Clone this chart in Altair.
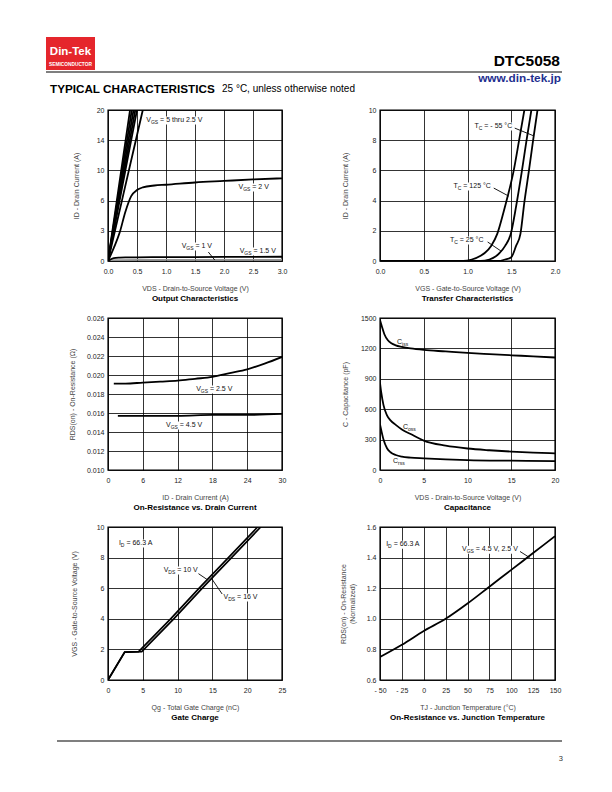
import altair as alt
import pandas as pd

FONT = "Liberation Sans"

# ================= Output Characteristics =================
oc_x_ticks = [0.0, 0.5, 1.0, 1.5, 2.0, 2.5, 3.0]
oc_y_ticks = [0, 3, 6, 10, 14, 20]
oc_bundle_id = [0, 3, 6, 10, 14, 20]
oc_vgs50_vds = [0, 0.076, 0.152, 0.228, 0.304, 0.38]
oc_vgs45_vds = [0, 0.082, 0.164, 0.246, 0.328, 0.41]
oc_vgs40_vds = [0, 0.088, 0.176, 0.264, 0.352, 0.44]
oc_vgs35_vds = [0, 0.094, 0.188, 0.282, 0.376, 0.47]
oc_vgs30_vds = [0, 0.100, 0.200, 0.300, 0.400, 0.50]
oc_vgs25_vds = [0, 0.120, 0.240, 0.360, 0.480, 0.60]
oc_vgs20_vds = [0, 0.1, 0.2, 0.3, 0.4, 0.5, 0.6, 0.8, 1.0, 1.5, 2.0, 2.5, 3.0]
oc_vgs20_id = [0, 1.3, 2.8, 4.9, 6.6, 7.4, 7.75, 8.0, 8.1, 8.4, 8.6, 8.8, 8.95]
oc_vgs15_vds = [0, 0.05, 0.1, 0.2, 0.3, 0.5, 1.0, 2.0, 3.0]
oc_vgs15_id = [0, 0.18, 0.28, 0.34, 0.36, 0.37, 0.38, 0.40, 0.42]
oc_vgs10_vds = [0, 0.05, 0.1, 0.2, 0.5, 1.0, 2.0, 3.0]
oc_vgs10_id = [0, 0.06, 0.09, 0.11, 0.12, 0.12, 0.13, 0.13]
oc_lbl_vds = [0.66, 2.25, 1.27, 2.27]
oc_lbl_id = [18.0, 7.8, 1.49, 1.0]
oc_ptr_vds = [1.73, 1.84]
oc_ptr_id = [0.89, 0.10]

# ================= Transfer Characteristics =================
tr_x_ticks = [0.0, 0.5, 1.0, 1.5, 2.0]
tr_y_ticks = [0, 2, 4, 6, 8, 10]
tr_125_vgs = [0.0, 0.95, 1.05, 1.15, 1.20, 1.27, 1.34, 1.41, 1.46, 1.525, 1.59, 1.65]
tr_125_id = [0, 0, 0.10, 0.35, 0.55, 1.0, 1.8, 3.2, 4.3, 5.9, 8.0, 10.0]
tr_25_vgs = [0.0, 1.15, 1.25, 1.32, 1.37, 1.43, 1.495, 1.555, 1.62, 1.675, 1.73]
tr_25_id = [0, 0, 0.10, 0.30, 0.55, 1.0, 1.8, 3.6, 5.9, 8.0, 10.0]
tr_m55_vgs = [0.0, 1.35, 1.43, 1.50, 1.555, 1.605, 1.65, 1.70, 1.75, 1.80]
tr_m55_id = [0, 0, 0.10, 0.25, 1.0, 1.8, 3.9, 5.9, 8.0, 10.0]
tr_lbl_vgs = [1.08, 0.84, 0.80]
tr_lbl_id = [8.94, 4.97, 1.39]
tr_ptr_m55_vgs = [1.54, 1.76]
tr_ptr_m55_id = [8.80, 8.28]
tr_ptr_125_vgs = [1.30, 1.47]
tr_ptr_125_id = [4.83, 4.30]
tr_ptr_25_vgs = [1.23, 1.385]
tr_ptr_25_id = [1.26, 0.65]

# ================= On-Resistance vs. Drain Current =================
rid_x_ticks = [0, 6, 12, 18, 24, 30]
rid_y_ticks = [0.010, 0.012, 0.014, 0.016, 0.018, 0.020, 0.022, 0.024, 0.026]
rid_25_id = [1, 3, 6, 9, 12, 15, 18, 21, 24, 27, 30]
rid_25_r = [0.0191, 0.0191, 0.0192, 0.0193, 0.0194, 0.0196, 0.0198, 0.0202, 0.0206, 0.0212, 0.0219]
rid_45_id = [1.7, 6, 12, 18, 24, 30]
rid_45_r = [0.0157, 0.0157, 0.0157, 0.0158, 0.0158, 0.0159]
rid_lbl_id = [15.2, 10.0]
rid_lbl_r = [0.01853, 0.01474]

# ================= Capacitance =================
cap_x_ticks = [0, 5, 10, 15, 20]
cap_y_ticks = [0, 300, 600, 900, 1200, 1500]
ciss_v = [0, 0.2, 0.5, 0.9, 1.3, 1.8, 2.5, 3.5, 5, 7.5, 10, 12.5, 15, 17.5, 20]
ciss_c = [1480, 1420, 1340, 1280, 1250, 1230, 1215, 1200, 1185, 1170, 1155, 1143, 1132, 1122, 1110]
coss_v = [0, 0.15, 0.4, 0.8, 1.2, 1.8, 2.5, 3.5, 5, 7.5, 10, 12.5, 15, 17.5, 20]
coss_c = [860, 760, 640, 540, 490, 445, 400, 355, 290, 240, 212, 195, 182, 172, 165]
crss_v = [0, 0.15, 0.4, 0.8, 1.2, 1.8, 2.5, 3.5, 5, 7.5, 10, 15, 20]
crss_c = [450, 390, 300, 215, 175, 148, 132, 122, 115, 105, 98, 92, 88]
cap_lbl_v = [1.94, 2.63, 1.49]
cap_lbl_c = [1263, 424, 89]

# ================= Gate Charge =================
gc_x_ticks = [0, 5, 10, 15, 20, 25]
gc_y_ticks = [0, 2, 4, 6, 8, 10]
gc_10_q = [0, 2.4, 4.4, 9.0, 13.1, 17.3, 21.5]
gc_10_v = [0, 1.82, 1.85, 4.0, 6.0, 8.0, 10.0]
gc_16_q = [0, 2.4, 4.85, 9.45, 13.55, 17.75, 21.95]
gc_16_v = [0, 1.82, 1.85, 4.0, 6.0, 8.0, 10.0]
gc_lbl_q = [1.57, 8.0, 16.6]
gc_lbl_v = [8.95, 7.19, 5.42]
gc_ptr10_q = [13.0, 14.3]
gc_ptr10_v = [6.95, 6.55]
gc_ptr16_q = [16.4, 14.9]
gc_ptr16_v = [5.62, 6.62]

# ================= On-Resistance vs. Junction Temperature =================
rt_x_ticks = [-50, -25, 0, 25, 50, 75, 100, 125, 150]
rt_x_labels = ["- 50", "- 25", "0", "25", "50", "75", "100", "125", "150"]
rt_y_ticks = [0.6, 0.8, 1.0, 1.2, 1.4, 1.6]
rt_t = [-50, -25, 0, 25, 50, 75, 100, 125, 150]
rt_r = [0.75, 0.83, 0.92, 1.00, 1.10, 1.21, 1.32, 1.43, 1.54]
rt_lbl_t = [-43.0, 43.7]
rt_lbl_r = [1.487, 1.454]
rt_ptr_t = [110, 121]
rt_ptr_r = [1.44, 1.40]

# ---------------------------------------------------------------
W0, W1 = 174, 175
H1, H2, H3 = 151, 152, 153
DUMMY = pd.DataFrame({"k": [0]})

AW = {' ': 278, '=': 584, '-': 333, '.': 278, ',': 278, '°': 400, 'A': 667, 'C': 722,
      'D': 722, 'G': 778, 'I': 278, 'S': 667, 'T': 611, 'V': 667, 'c': 500, 'i': 222,
      's': 500, 'o': 556, 'r': 333, 't': 278, 'h': 556, 'u': 556, 'n': 556}


def twidth(s, fs):
    return sum(AW.get(ch, 556) for ch in s) / 1000.0 * fs


def xq(domain, ticks, title, fmt=None, expr=None):
    kw = dict(values=ticks, title=title, grid=True, labelPadding=6, titlePadding=10)
    if fmt:
        kw["format"] = fmt
    if expr:
        kw["labelExpr"] = expr
    return alt.X("x:Q", scale=alt.Scale(domain=domain, nice=False, zero=False), axis=alt.Axis(**kw))


def yq(domain, ticks, title, tpad, fmt=None, rng=None):
    kw = dict(values=ticks, title=title, grid=True, labelPadding=4, titlePadding=tpad)
    if fmt:
        kw["format"] = fmt
    sc = dict(domain=domain, nice=False, zero=False)
    if rng is not None:
        sc["range"] = rng
    return alt.Y("y:Q", scale=alt.Scale(**sc), axis=alt.Axis(**kw))


def series(xs, ys, X, Y, color="black", width=1.8, interp="monotone"):
    df = pd.DataFrame({"x": xs, "y": ys, "i": list(range(len(xs)))})
    return alt.Chart(df).mark_line(color=color, strokeWidth=width, clip=True,
                                   interpolate=interp).encode(x=X, y=Y, order="i:Q")


def label(x, y, parts, X, Y, size=7.0):
    """Returns (white background strip layer, list of text layers)."""
    df = pd.DataFrame({"x": [x], "y": [y]})
    out = []
    off = 0.0
    for t, sub in parts:
        fs = 5.0 if sub else size
        ts = t.lstrip(" ")
        off += (len(t) - len(ts)) * 0.278 * fs
        out.append(alt.Chart(df).mark_text(text=ts, align="left", baseline="middle", dx=off,
                                           dy=(2.0 if sub else 0.0), fontSize=fs, font=FONT,
                                           color="#111").encode(x=X, y=Y))
        off += twidth(ts, fs)
    box = alt.Chart(df).mark_rule(color="white", strokeWidth=8, strokeCap="butt",
                                  xOffset=-1, x2Offset=off + 1, yOffset=0.5).encode(
        x=X, x2=alt.X2("x:Q"), y=Y)
    return box, out


def panel(curves, labels, w, h, title):
    boxes = [b for b, _ in labels]
    texts = [t for _, ts in labels for t in ts]
    return alt.layer(*(boxes + curves + texts)).properties(
        width=w, height=h,
        title=alt.TitleParams(title, orient="bottom", anchor="middle", fontSize=8,
                              fontWeight="bold", font=FONT, color="black", offset=4))


# ---- chart 1
X1 = xq([0, 3], oc_x_ticks, "VDS - Drain-to-Source Voltage (V)", fmt=".1f")
Y1 = yq([0, 3, 6, 10, 14, 20], oc_y_ticks, "ID - Drain Current (A)", 17,
        rng=[H1 * (1 - k / 5) for k in range(6)])
l1 = [series(v, oc_bundle_id, X1, Y1, interp="linear") for v in
      [oc_vgs50_vds, oc_vgs45_vds, oc_vgs40_vds, oc_vgs35_vds, oc_vgs30_vds, oc_vgs25_vds]]
l1 += [series(oc_vgs20_vds, oc_vgs20_id, X1, Y1),
       series(oc_vgs10_vds, oc_vgs10_id, X1, Y1, color="#999999", width=1.5),
       series(oc_vgs15_vds, oc_vgs15_id, X1, Y1),
       series(oc_ptr_vds, oc_ptr_id, X1, Y1, width=0.9, interp="linear")]
t1 = [label(oc_lbl_vds[0], oc_lbl_id[0], [("V", 0), ("GS", 1), (" = 5 thru 2.5 V", 0)], X1, Y1),
      label(oc_lbl_vds[1], oc_lbl_id[1], [("V", 0), ("GS", 1), (" = 2 V", 0)], X1, Y1),
      label(oc_lbl_vds[2], oc_lbl_id[2], [("V", 0), ("GS", 1), (" = 1 V", 0)], X1, Y1),
      label(oc_lbl_vds[3], oc_lbl_id[3], [("V", 0), ("GS", 1), (" = 1.5 V", 0)], X1, Y1)]
c1 = panel(l1, t1, W0, H1, "Output Characteristics")

# ---- chart 2
X2 = xq([0, 2], tr_x_ticks, "VGS - Gate-to-Source Voltage (V)", fmt=".1f")
Y2 = yq([0, 10], tr_y_ticks, "ID - Drain Current (A)", 20)
l2 = [series(tr_125_vgs, tr_125_id, X2, Y2), series(tr_25_vgs, tr_25_id, X2, Y2),
      series(tr_m55_vgs, tr_m55_id, X2, Y2),
      series(tr_ptr_m55_vgs, tr_ptr_m55_id, X2, Y2, width=0.9, interp="linear"),
      series(tr_ptr_125_vgs, tr_ptr_125_id, X2, Y2, width=0.9, interp="linear"),
      series(tr_ptr_25_vgs, tr_ptr_25_id, X2, Y2, width=0.9, interp="linear")]
t2 = [label(tr_lbl_vgs[0], tr_lbl_id[0], [("T", 0), ("C", 1), (" = - 55 °C", 0)], X2, Y2),
      label(tr_lbl_vgs[1], tr_lbl_id[1], [("T", 0), ("C", 1), (" = 125 °C", 0)], X2, Y2),
      label(tr_lbl_vgs[2], tr_lbl_id[2], [("T", 0), ("C", 1), (" = 25 °C", 0)], X2, Y2)]
c2 = panel(l2, t2, W1, H1, "Transfer Characteristics")

# ---- chart 3
X3 = xq([0, 30], rid_x_ticks, "ID - Drain Current (A)")
Y3 = yq([0.010, 0.026], rid_y_ticks, "RDS(on) - On-Resistance (Ω)", 11, fmt=".3f")
l3 = [series(rid_25_id, rid_25_r, X3, Y3), series(rid_45_id, rid_45_r, X3, Y3)]
t3 = [label(rid_lbl_id[0], rid_lbl_r[0], [("V", 0), ("GS", 1), (" = 2.5 V", 0)], X3, Y3),
      label(rid_lbl_id[1], rid_lbl_r[1], [("V", 0), ("GS", 1), (" = 4.5 V", 0)], X3, Y3)]
c3 = panel(l3, t3, W0, H2, "On-Resistance vs. Drain Current")

# ---- chart 4
X4 = xq([0, 20], cap_x_ticks, "VDS - Drain-to-Source Voltage (V)")
Y4 = yq([0, 1500], cap_y_ticks, "C - Capacitance (pF)", 12, fmt="d")
l4 = [series(ciss_v, ciss_c, X4, Y4), series(coss_v, coss_c, X4, Y4), series(crss_v, crss_c, X4, Y4)]
t4 = [label(cap_lbl_v[0], cap_lbl_c[0], [("C", 0), ("iss", 1)], X4, Y4),
      label(cap_lbl_v[1], cap_lbl_c[1], [("C", 0), ("oss", 1)], X4, Y4),
      label(cap_lbl_v[2], cap_lbl_c[2], [("C", 0), ("rss", 1)], X4, Y4)]
c4 = panel(l4, t4, W1, H2, "Capacitance")

# ---- chart 5
X5 = xq([0, 25], gc_x_ticks, "Qg - Total Gate Charge (nC)")
Y5 = yq([0, 10], gc_y_ticks, "VGS - Gate-to-Source Voltage (V)", 19)
l5 = [series(gc_10_q, gc_10_v, X5, Y5, width=1.7, interp="linear"),
      series(gc_16_q, gc_16_v, X5, Y5, width=1.7, interp="linear"),
      series(gc_ptr10_q, gc_ptr10_v, X5, Y5, width=0.9, interp="linear"),
      series(gc_ptr16_q, gc_ptr16_v, X5, Y5, width=0.9, interp="linear")]
t5 = [label(gc_lbl_q[0], gc_lbl_v[0], [("I", 0), ("D", 1), (" = 66.3 A", 0)], X5, Y5),
      label(gc_lbl_q[1], gc_lbl_v[1], [("V", 0), ("DS", 1), (" = 10 V", 0)], X5, Y5),
      label(gc_lbl_q[2], gc_lbl_v[2], [("V", 0), ("DS", 1), (" = 16 V", 0)], X5, Y5)]
c5 = panel(l5, t5, W0, H3, "Gate Charge")

# ---- chart 6
rt_expr = " : ".join(f"datum.value == {v} ? '{s}'" for v, s in zip(rt_x_ticks, rt_x_labels)) + " : ''"
X6 = xq([-50, 150], rt_x_ticks, "TJ - Junction Temperature (°C)", expr=rt_expr)
Y6 = yq([0.6, 1.6], rt_y_ticks, ["RDS(on) - On-Resistance", "(Normalized)"], 11, fmt=".1f")
l6 = [series(rt_t, rt_r, X6, Y6), series(rt_ptr_t, rt_ptr_r, X6, Y6, width=0.9, interp="linear")]
t6 = [label(rt_lbl_t[0], rt_lbl_r[0], [("I", 0), ("D", 1), (" = 66.3 A", 0)], X6, Y6),
      label(rt_lbl_t[1], rt_lbl_r[1], [("V", 0), ("GS", 1), (" = 4.5 V, 2.5 V", 0)], X6, Y6)]
c6 = panel(l6, t6, W1, H3, "On-Resistance vs. Junction Temperature")

# ---- header / footer / blank
NOFRAME = alt.ViewBackground(stroke="transparent")


def ptext(text, x, y, size, weight="normal", color="black", align="left"):
    return alt.Chart(DUMMY).mark_text(text=text, fontSize=size, fontWeight=weight, color=color,
                                      align=align, baseline="middle", font=FONT).encode(
        x=alt.value(x), y=alt.value(y))


header = alt.layer(
    alt.Chart(DUMMY).mark_rect(color="#e5262c").encode(
        x=alt.value(-62), x2=alt.value(-13), y=alt.value(4), y2=alt.value(37)),
    ptext("Din-Tek", -37.5, 19, 11.5, "bold", "white", "center"),
    ptext("SEMICONDUCTOR", -37.5, 32, 4.8, "bold", "white", "center"),
    alt.Chart(DUMMY).mark_rule(color="black", strokeWidth=1.2).encode(
        x=alt.value(-62), x2=alt.value(454), y=alt.value(39)),
    ptext("DTC5058", 452, 28, 15.5, "bold", "black", "right"),
    ptext("www.din-tek.jp", 453, 45, 11.8, "bold", "#1f2f8f", "right"),
    ptext("TYPICAL CHARACTERISTICS", -58, 56, 11.7, "bold"),
    ptext("25 °C, unless otherwise noted", 114, 56, 10),
).properties(width=W0, height=20, view=NOFRAME)

blank = alt.Chart(DUMMY).mark_point(opacity=0).encode(
    x=alt.value(0), y=alt.value(0)).properties(width=W1, height=20, view=NOFRAME)

footer = alt.layer(
    alt.Chart(DUMMY).mark_rule(color="black", strokeWidth=1.2).encode(
        x=alt.value(-51), x2=alt.value(454), y=alt.value(4)),
    ptext("3", 455, 22, 7.5, "normal", "#333", "right"),
).properties(width=W0, height=10, view=NOFRAME)

chart = alt.concat(
    header, blank, c1, c2, c3, c4, c5, c6, footer,
    columns=2, spacing={"row": 57, "column": 98}, bounds="flush",
).properties(
    padding={"left": 36, "top": 21, "right": 5, "bottom": 5},
    background="white",
).configure_view(
    stroke="black", strokeWidth=1.4
).configure_axis(
    labelFont=FONT, titleFont=FONT, labelFontSize=7, titleFontSize=7,
    labelColor="#222", titleColor="#444", titleFontWeight="normal",
    domain=False, ticks=False, gridColor="black", gridOpacity=1, gridWidth=0.8,
    labelFlush=False, labelOverlap=False,
)

chart.save("out.html", embed_options={"renderer": "svg", "actions": False})
